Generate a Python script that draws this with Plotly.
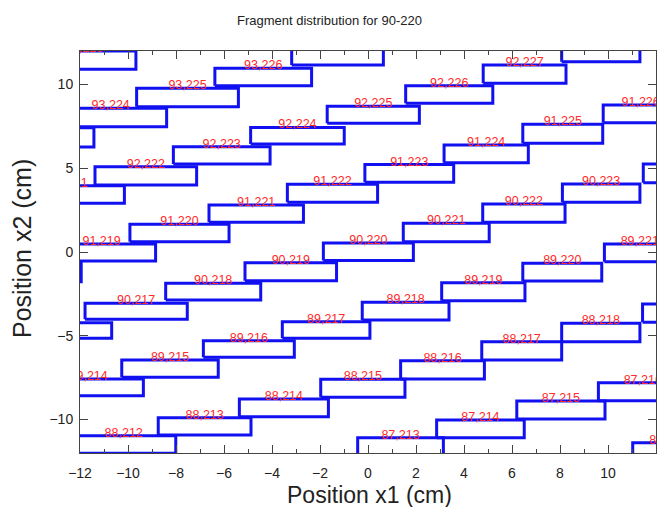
import plotly.graph_objects as go

# Fragment labels (Z,A) and rectangle extents (cm)
labels = [
    "94,226",
    "93,223", "93,224", "93,225", "93,226", "93,227",
    "92,221", "92,222", "92,223", "92,224", "92,225", "92,226", "92,227", "92,228",
    "91,218", "91,219", "91,220", "91,221", "91,222", "91,223", "91,224", "91,225", "91,226",
    "90,216", "90,217", "90,218", "90,219", "90,220", "90,221", "90,222", "90,223", "90,224",
    "89,214", "89,215", "89,216", "89,217", "89,218", "89,219", "89,220", "89,221",
    "88,212", "88,213", "88,214", "88,215", "88,216", "88,217", "88,218", "88,219",
    "87,213", "87,214", "87,215", "87,216",
    "86,214",
]
x_left = [
    -14.0,
    -15.6, -13.05, -9.64, -6.38, -3.18,
    -14.8, -11.375, -8.11, -4.89, -1.70, 1.57, 4.80, 8.07,
    -16.0, -13.35, -9.92, -6.625, -3.36, -0.13, 3.17, 6.45, 9.80,
    -15.0, -11.79, -8.43, -5.125, -1.86, 1.47, 4.78, 8.10, 11.47,
    -13.92, -10.26, -6.86, -3.57, -0.24, 3.07, 6.45, 9.85,
    -12.35, -8.74, -5.36, -1.97, 1.36, 4.74, 8.07, 11.44,
    -0.43, 2.86, 6.20, 9.60,
    11.03,
]
x_right = [
    -9.67,
    -11.42, -8.39, -5.40, -2.35, 0.64,
    -10.15, -7.14, -4.08, -0.99, 2.14, 5.20, 8.25, 11.33,
    -11.95, -8.85, -5.79, -2.69, 0.40, 3.57, 6.68, 9.78, 12.92,
    -10.68, -7.53, -4.47, -1.31, 1.89, 5.05, 8.21, 11.33, 14.5,
    -9.36, -6.24, -3.07, 0.08, 3.375, 6.54, 9.74, 12.8,
    -8.01, -4.875, -1.65, 1.54, 4.85, 8.07, 11.33, 14.5,
    3.14, 6.51, 9.875, 13.3,
    14.0,
]
y_bottom = [
    10.91,
    6.27, 7.48, 8.67, 9.93, 11.16,
    2.91, 4.00, 5.25, 6.45, 7.68, 8.88, 10.07, 11.36,
    -1.77, -0.54, 0.61, 1.77, 2.97, 4.16, 5.33, 6.49, 7.72,
    -5.15, -4.02, -2.87, -1.71, -0.50, 0.61, 1.77, 2.97, 4.14,
    -8.58, -7.48, -6.29, -5.15, -4.06, -2.91, -1.73, -0.58,
    -12.02, -10.93, -9.83, -8.67, -7.58, -6.45, -5.36, -4.20,
    -12.14, -11.09, -9.97, -8.88,
    -12.5,
]
y_top = [
    12.0,
    7.42, 8.58, 9.77, 10.97, 12.2,
    3.96, 5.09, 6.29, 7.44, 8.70, 9.93, 11.16, 12.4,
    -0.58, 0.48, 1.65, 2.81, 4.05, 5.22, 6.39, 7.62, 8.78,
    -4.22, -3.06, -1.87, -0.64, 0.54, 1.71, 2.87, 4.06, 5.25,
    -7.58, -6.45, -5.30, -4.16, -3.00, -1.83, -0.67, 0.48,
    -10.97, -9.89, -8.78, -7.60, -6.49, -5.36, -4.26, -3.10,
    -11.09, -10.03, -8.90, -7.80,
    -11.39,
]

x_ticks = [-12, -10, -8, -6, -4, -2, 0, 2, 4, 6, 8, 10, 12]
y_ticks = [-10, -5, 0, 5, 10]

xs, ys = [], []
for x0, x1, y0, y1 in zip(x_left, x_right, y_bottom, y_top):
    xs += [x0, x1, x1, x0, x0, None]
    ys += [y0, y0, y1, y1, y0, None]

label_x = [(a + b) / 2 for a, b in zip(x_left, x_right)]
label_y = [t - 0.25 for t in y_top]

fig = go.Figure()
fig.add_trace(go.Scatter(
    x=xs, y=ys, mode="lines",
    line=dict(color="#1010f0", width=3),
    hoverinfo="skip", showlegend=False,
))
fig.add_trace(go.Scatter(
    x=label_x, y=label_y, mode="text", text=labels,
    textposition="top center",
    textfont=dict(family="Liberation Sans, Arial, sans-serif", size=12.5, color="#ff2a2a"),
    cliponaxis=True, hoverinfo="skip", showlegend=False,
))

axis_common = dict(
    showgrid=False, zeroline=False,
    showline=True, linecolor="#444444", linewidth=1, mirror="ticks",
    ticks="inside", tickcolor="#444444", ticklen=8, tickwidth=1,
    tickfont=dict(family="Liberation Sans, Arial, sans-serif", size=14, color="#222222"),
)

fig.update_xaxes(range=[-12, 12], tickmode="array", tickvals=x_ticks,
                 minor=dict(dtick=1, ticks="inside", ticklen=4, tickcolor="#444444"),
                 ticklabelstandoff=7, **axis_common)
fig.update_yaxes(range=[-12, 12], tickmode="array", tickvals=y_ticks,
                 ticklabelstandoff=3, **axis_common)

# white masks just outside the plot frame so labels do not spill past it
px = 1 / 576
py = 1 / 402
masks = [
    dict(type="rect", xref="paper", yref="paper", x0=1 + 1.5 * px, x1=1.05,
         y0=-0.02, y1=1.02, fillcolor="white", line=dict(width=0), layer="above"),
    dict(type="rect", xref="paper", yref="paper", x0=-7 * px, x1=-1.5 * px,
         y0=-0.02, y1=1.02, fillcolor="white", line=dict(width=0), layer="above"),
    dict(type="rect", xref="paper", yref="paper", x0=-0.02, x1=1.02,
         y0=1 + 1.5 * py, y1=1.04, fillcolor="white", line=dict(width=0), layer="above"),
]

fig.update_layout(
    width=662, height=507,
    margin=dict(l=80, r=6, t=51, b=54),
    paper_bgcolor="white", plot_bgcolor="white",
    shapes=masks,
    annotations=[
        dict(text="Fragment distribution for 90-220", xref="paper", yref="paper",
             x=0.434, y=1.077, xanchor="center", yanchor="middle", showarrow=False,
             font=dict(family="Liberation Sans, Arial, sans-serif", size=13, color="#222222")),
        dict(text="Position x1 (cm)", xref="paper", yref="paper",
             x=0.503, y=-0.104, xanchor="center", yanchor="middle", showarrow=False,
             font=dict(family="Liberation Sans, Arial, sans-serif", size=23, color="#222222")),
        dict(text="Position x2 (cm)", xref="paper", yref="paper", textangle=-90,
             x=-0.1007, y=0.51, xanchor="center", yanchor="middle", showarrow=False,
             font=dict(family="Liberation Sans, Arial, sans-serif", size=25, color="#222222")),
    ],
)

fig.write_html("out.html", config={"displayModeBar": False},
               post_script="document.body.style.margin='0px';")
